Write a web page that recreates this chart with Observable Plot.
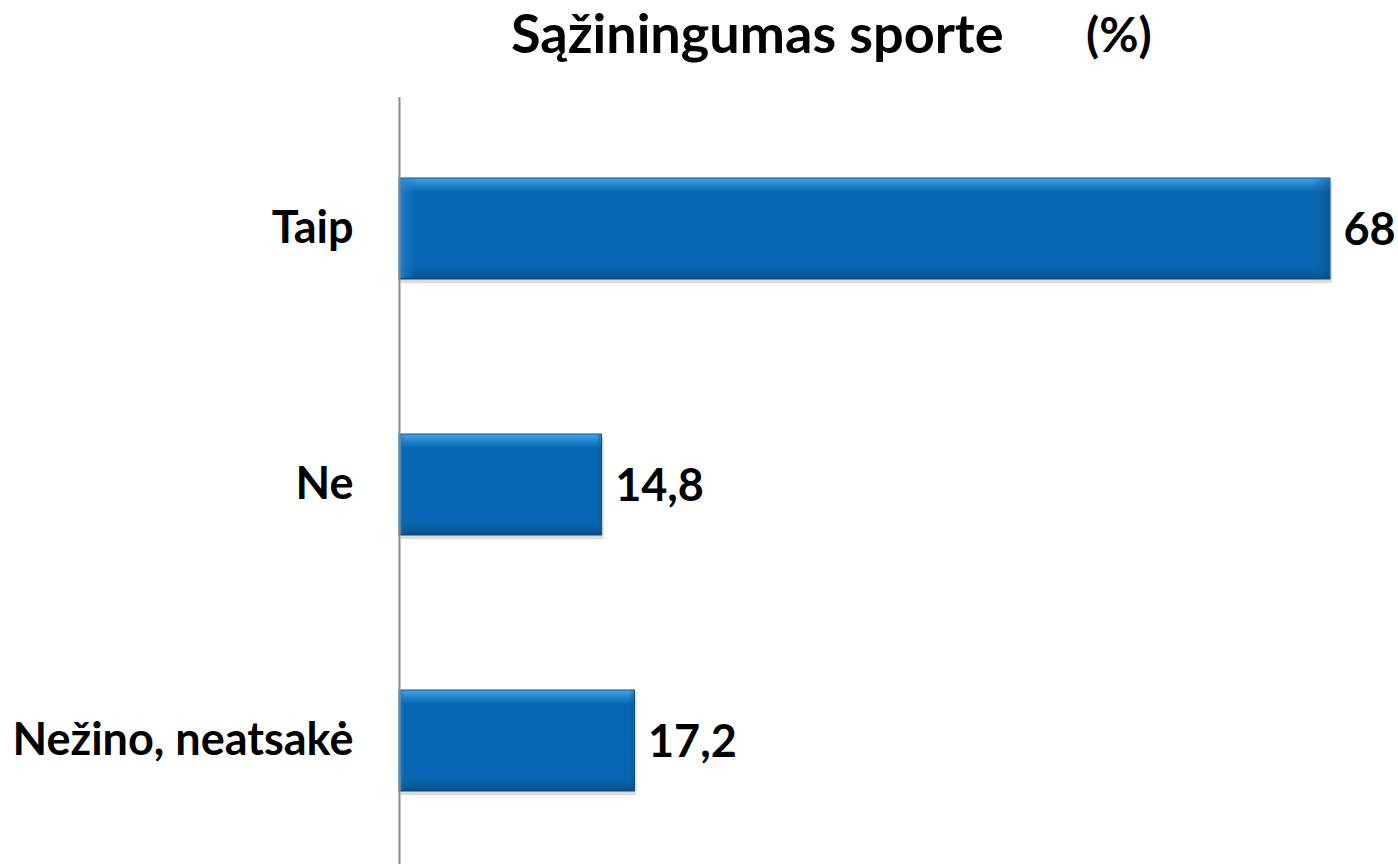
<!DOCTYPE html>
<html>
<head>
<meta charset="utf-8">
<script src="https://cdn.jsdelivr.net/npm/d3@7"></script>
<script src="https://cdn.jsdelivr.net/npm/@observablehq/plot@0.6"></script>
<style>
  html, body { margin: 0; padding: 0; background: #fff; overflow: hidden; }
  body { width: 1398px; height: 864px; position: relative; font-family: Lato, "Open Sans", sans-serif; }
  .title { position: absolute; top: 1px; font-size: 54px; font-weight: 700; color: #000; white-space: pre; line-height: 1.2; }
  #t1 { left: 511px; }
  #t2 { left: 1086px; font-size: 48px; top: 5px; }
  #chart { position: absolute; left: 0; top: 97px; }
</style>
</head>
<body>
<div class="title" id="t1">Sąžiningumas sporte</div>
<div class="title" id="t2">(%)</div>
<div id="chart"></div>
<script>
const categories = ["Taip", "Ne", "Nežino, neatsakė"];
const values = [68, 14.8, 17.2];
const valueLabels = ["68", "14,8", "17,2"];

const data = categories.map((c, i) => ({category: c, value: values[i], label: valueLabels[i]}));

const plot = Plot.plot({
  width: 1398,
  height: 774,
  marginLeft: 399,
  marginRight: 68,
  marginTop: 0,
  marginBottom: 0,
  style: {fontFamily: "Lato, 'Open Sans', sans-serif", background: "transparent"},
  x: {domain: [0, 68], axis: null},
  y: {domain: categories, paddingInner: 0.607, paddingOuter: 0.31, align: 0.5, label: null},
  marks: [
    Plot.barX(data, {x: "value", y: "category", fill: "#9a9a9a", fillOpacity: 0.35, dx: 2, dy: 4}),
    Plot.barX(data, {x: "value", y: "category", fill: "url(#barGrad)", stroke: "#0b4f88", strokeWidth: 1}),
    Plot.barX(data, {x: "value", y: "category", fill: "url(#barGradH)", insetTop: 1, insetBottom: 1, insetLeft: 1, insetRight: 1}),
    Plot.ruleX([0], {stroke: "#8a8a8a", strokeWidth: 2}),
    Plot.axisY({tickSize: 0, tickPadding: 46, fontSize: 45, fontWeight: "bold", fill: "#000", label: null}),
    Plot.text(data, {x: "value", y: "category", text: "label", textAnchor: "start", dx: 13, dy: 2, fontSize: 45, fontWeight: "bold", fill: "#000"})
  ]
});

const ns = "http://www.w3.org/2000/svg";
const defs = document.createElementNS(ns, "defs");
defs.innerHTML = `
  <linearGradient id="barGrad" x1="0" y1="0" x2="0" y2="1">
    <stop offset="0" stop-color="#4aa3e8"/>
    <stop offset="0.08" stop-color="#1f80cc"/>
    <stop offset="0.14" stop-color="#0767b2"/>
    <stop offset="0.88" stop-color="#0767b2"/>
    <stop offset="0.96" stop-color="#0a5a9c"/>
    <stop offset="1" stop-color="#0b4a80"/>
  </linearGradient>
  <linearGradient id="barGradH" x1="0" y1="0" x2="1" y2="0">
    <stop offset="0" stop-color="#2a88d4" stop-opacity="0.8"/>
    <stop offset="0.02" stop-color="#0767b2" stop-opacity="0"/>
    <stop offset="0.98" stop-color="#0767b2" stop-opacity="0"/>
    <stop offset="1" stop-color="#0a4f88" stop-opacity="0.6"/>
  </linearGradient>`;
plot.insertBefore(defs, plot.firstChild);
document.getElementById("chart").appendChild(plot);
</script>
</body>
</html>
